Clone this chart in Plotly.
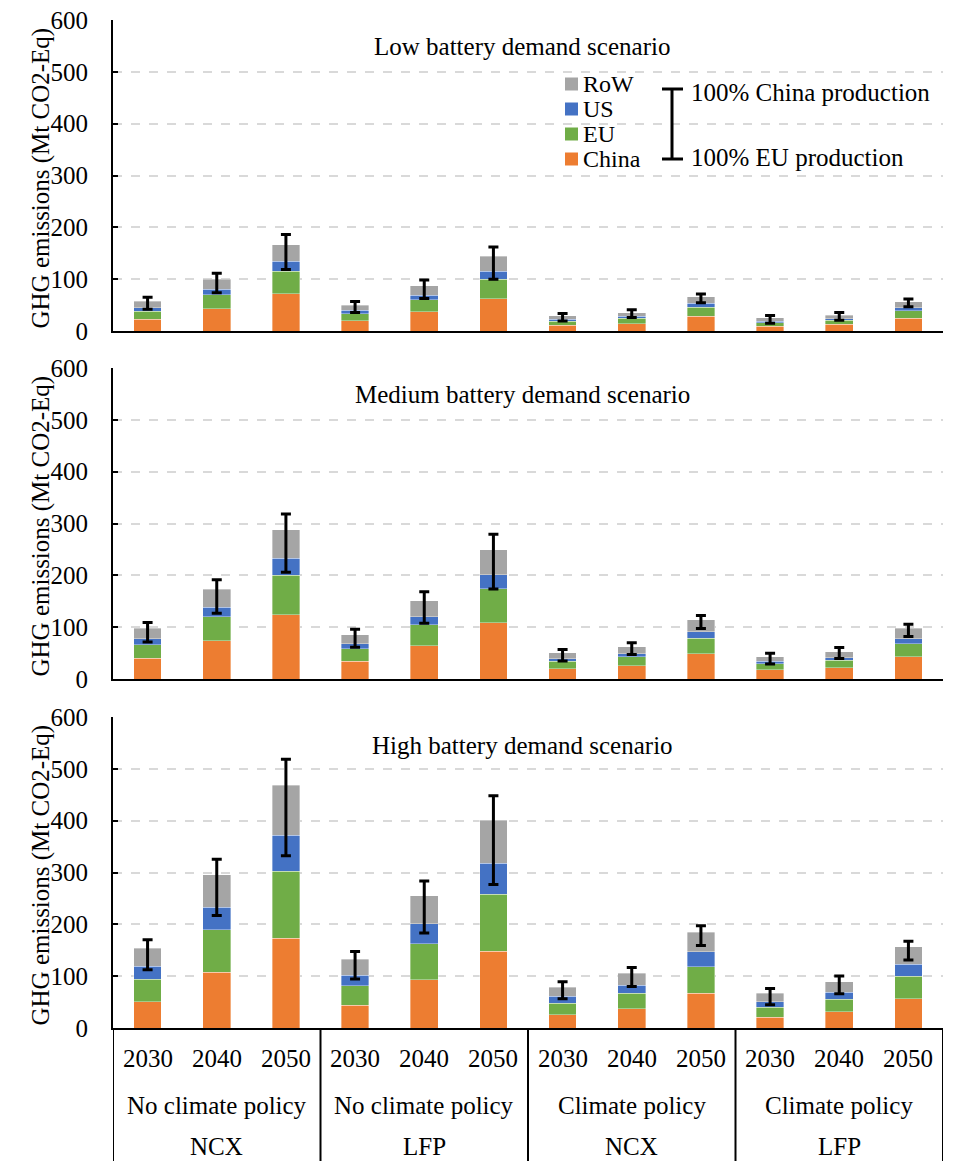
import plotly.graph_objects as go
from plotly.subplots import make_subplots

# ---------------- data ----------------
years = ["2030", "2040", "2050"]
policies = ["No climate policy", "No climate policy", "Climate policy", "Climate policy"]
chemistries = ["NCX", "LFP", "NCX", "LFP"]
regions = ["China", "EU", "US", "RoW"]
region_colors = ["#ED7D31", "#70AD47", "#4472C4", "#A5A5A5"]
scenarios = ["Low battery demand scenario", "Medium battery demand scenario", "High battery demand scenario"]

low_china = [23, 42.5, 72, 19.5, 37.5, 62.5, 11.5, 14.3, 28.6, 9.1, 13, 24.7]
low_eu = [15.5, 27, 43, 14, 23, 37.5, 7.3, 10.4, 16.9, 7.1, 7.8, 14.3]
low_us = [6.5, 11, 19.5, 6.5, 8.5, 15.5, 3.5, 3.9, 7.7, 2.6, 3.2, 5.8]
low_row = [12, 19.5, 31.5, 9.7, 18, 29, 7.1, 7.1, 13, 6.5, 6.5, 11.7]
low_china_prod = [65, 111.5, 186, 57, 98.5, 162, 34, 41, 71.5, 30, 35.7, 61.7]
low_eu_prod = [42, 74, 118.5, 35.5, 62.5, 100, 19.5, 26, 54.5, 15, 20.8, 46.8]

med_china = [40, 74, 124, 34, 64, 108.5, 20, 25.8, 48.4, 18.1, 21.9, 42.6]
med_eu = [26.5, 46, 76, 24, 40.5, 66, 14, 17.4, 30.3, 11.6, 14.2, 25.1]
med_us = [11.5, 18.5, 33, 10.4, 16, 26.4, 5.4, 5.8, 12.9, 4.5, 5.2, 10.4]
med_row = [20, 34.5, 55, 17.4, 30.5, 48.5, 10.9, 12.9, 22.6, 8.4, 11.6, 20]
med_china_prod = [109, 191.5, 318.5, 96, 168.5, 279.5, 56.8, 69.7, 122.6, 49.7, 60.6, 105.8]
med_eu_prod = [71.5, 127, 206, 61.3, 107.7, 173.5, 34.5, 47.1, 97.4, 29, 39.4, 81.9]

high_china = [51, 107.5, 173, 43.7, 93.2, 147.8, 25.5, 36.9, 67.3, 20.7, 31.1, 56.3]
high_eu = [43.5, 82, 129, 38, 69.4, 110, 21.9, 29.8, 51.1, 19.4, 24.6, 44]
high_us = [24.4, 43.7, 69.5, 19.9, 38.6, 59.8, 13.6, 15.5, 28.5, 11, 13.6, 22.7]
high_row = [35.3, 62.3, 96.4, 30.9, 53.9, 82.9, 17.7, 23.3, 38.2, 15.6, 20, 33.6]
high_china_prod = [170.3, 325.8, 518.6, 147.8, 283.4, 448, 89, 116.5, 197.4, 76.4, 100.3, 167.6]
high_eu_prod = [112.5, 217.2, 332.3, 94.5, 183.2, 277, 56.2, 80.3, 159.2, 44.7, 66, 131.4]

y_ticks = [0, 100, 200, 300, 400, 500, 600]
error_labels = ["100% China production", "100% EU production"]
y_title = "GHG emissions (Mt CO2-Eq)"

# ---------------- layout helpers ----------------
W, H = 958, 1161
L, R = 113, 943
FONT = "Liberation Serif"
FS = 25

def px_x(p):
    return (p - L) / (R - L)

def px_y(p):
    return (H - p) / H

panel_px = [(20, 331), (368, 679), (717, 1028)]

panels = [
    (low_china, low_eu, low_us, low_row, low_china_prod, low_eu_prod),
    (med_china, med_eu, med_us, med_row, med_china_prod, med_eu_prod),
    (high_china, high_eu, high_us, high_row, high_china_prod, high_eu_prod),
]

n = len(low_china)
xs = list(range(n))

fig = make_subplots(rows=3, cols=1)

for r, data in enumerate(panels, start=1):
    series = data[:4]
    for name, vals, col in zip(regions, series, region_colors):
        fig.add_trace(go.Bar(x=xs, y=vals, name=name,
                             marker=dict(color=col, line=dict(width=0.6, color="rgba(255,255,255,0.6)")),
                             width=0.4, showlegend=False), row=r, col=1)
    totals = [sum(v) for v in zip(*series)]
    hi, lo = data[4], data[5]
    fig.add_trace(go.Scatter(
        x=xs, y=totals, mode="markers", marker=dict(opacity=0, size=1), showlegend=False,
        error_y=dict(type="data", symmetric=False,
                     array=[h - t for h, t in zip(hi, totals)],
                     arrayminus=[t - l for t, l in zip(totals, lo)],
                     color="black", thickness=3, width=5)), row=r, col=1)

fig.update_layout(barmode="stack", width=W, height=H, plot_bgcolor="white", paper_bgcolor="white",
                  margin=dict(l=L, r=W - R, t=0, b=0, autoexpand=False),
                  font=dict(family=FONT, size=FS, color="black"))

for i, (top, bot) in enumerate(panel_px, start=1):
    xa = "xaxis" if i == 1 else f"xaxis{i}"
    ya = "yaxis" if i == 1 else f"yaxis{i}"
    fig.layout[xa].update(domain=[0, 1], range=[-0.5, n - 0.5], showticklabels=False, ticks="",
                          showgrid=False, zeroline=False, showline=True, linecolor="black", linewidth=2,
                          automargin=False)
    fig.layout[ya].update(domain=[px_y(bot), px_y(top)], range=[0, 600], tickvals=y_ticks,
                          showline=True, linecolor="black", linewidth=2, ticks="inside", ticklen=5,
                          tickcolor="black", tickwidth=1.5,
                          showgrid=True, gridcolor="#D9D9D9", griddash="dash", gridwidth=1.5,
                          zeroline=False, ticklabelstandoff=18, automargin=False,
                          tickfont=dict(family=FONT, size=FS, color="black"))
    fig.add_annotation(text=y_title, xref="paper", yref="paper", x=px_x(40), y=px_y((top + bot) / 2 + 3),
                       textangle=-90, showarrow=False, xanchor="center", yanchor="middle",
                       font=dict(family=FONT, size=FS, color="black"))

# scenario titles
title_y = [47, 394, 745]
for t, yy in zip(scenarios, title_y):
    fig.add_annotation(text=t, xref="paper", yref="paper", x=px_x(522), y=px_y(yy), showarrow=False,
                       xanchor="center", yanchor="middle", font=dict(family=FONT, size=FS, color="black"))

# bottom category labels
for g in range(4):
    for k, yr in enumerate(years):
        fig.add_annotation(text=yr, xref="x3", yref="paper", x=g * 3 + k, y=px_y(1058), showarrow=False,
                           xanchor="center", yanchor="middle", font=dict(family=FONT, size=FS, color="black"))
    fig.add_annotation(text=policies[g], xref="x3", yref="paper", x=g * 3 + 1, y=px_y(1105), showarrow=False,
                       xanchor="center", yanchor="middle", font=dict(family=FONT, size=FS, color="black"))
    fig.add_annotation(text=chemistries[g], xref="x3", yref="paper", x=g * 3 + 1, y=px_y(1146), showarrow=False,
                       xanchor="center", yanchor="middle", font=dict(family=FONT, size=FS, color="black"))
for g in range(5):
    fig.add_shape(type="line", xref="x3", yref="paper", x0=g * 3 - 0.5, x1=g * 3 - 0.5,
                  y0=px_y(1028), y1=0, line=dict(color="black", width=2))

# legend (custom)
leg_y = [84, 109, 134, 159]
for name, col, yy in zip(reversed(regions), reversed(region_colors), leg_y):
    fig.add_shape(type="rect", xref="paper", yref="paper", x0=px_x(565), x1=px_x(578),
                  y0=px_y(yy + 6.5), y1=px_y(yy - 6.5), line=dict(width=0), fillcolor=col)
    fig.add_annotation(text=name, xref="paper", yref="paper", x=px_x(581), y=px_y(yy), showarrow=False,
                       xanchor="left", yanchor="middle", font=dict(family=FONT, size=24, color="black"))

# error bar legend
fig.add_shape(type="line", xref="paper", yref="paper", x0=px_x(672), x1=px_x(672), y0=px_y(89), y1=px_y(159),
              line=dict(color="black", width=3))
for yy in (89, 159):
    fig.add_shape(type="line", xref="paper", yref="paper", x0=px_x(662), x1=px_x(683), y0=px_y(yy), y1=px_y(yy),
                  line=dict(color="black", width=3))
fig.add_annotation(text=error_labels[0], xref="paper", yref="paper", x=px_x(689), y=px_y(92), showarrow=False,
                   xanchor="left", yanchor="middle", font=dict(family=FONT, size=FS, color="black"))
fig.add_annotation(text=error_labels[1], xref="paper", yref="paper", x=px_x(689), y=px_y(157), showarrow=False,
                   xanchor="left", yanchor="middle", font=dict(family=FONT, size=FS, color="black"))

fig.write_html("out.html", post_script="document.body.style.margin='0px';",
               config={"displayModeBar": False})
